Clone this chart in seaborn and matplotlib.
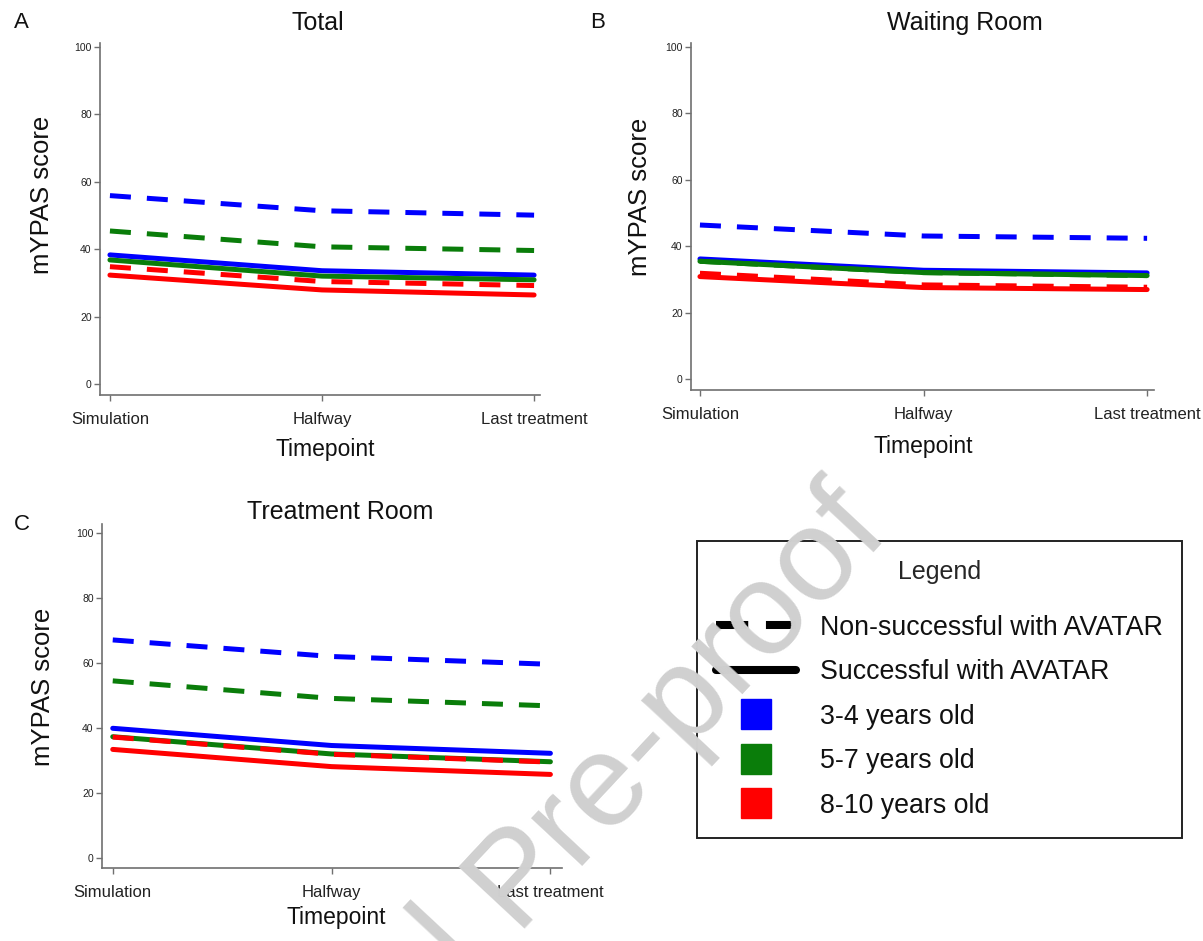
import matplotlib
matplotlib.use("Agg")
import matplotlib.pyplot as plt
from matplotlib.lines import Line2D
import numpy as np
import pandas as pd
import seaborn as sns

# timepoints and groups
timepoints = ["Simulation", "Halfway", "Last treatment"]
age_groups = ["3-4 years old", "5-7 years old", "8-10 years old"]
outcome_groups = ["Non-successful", "Successful"]
age_colors = ["#0000ff", "#0a7d0a", "#ff0000"]

# mYPAS scores, one row per age group
total_non = [[55.9, 51.4, 50.1], [45.4, 40.7, 39.6], [34.8, 30.4, 29.2]]
total_succ = [[38.3, 33.6, 32.3], [36.8, 32.0, 30.9], [32.3, 27.9, 26.4]]

waiting_non = [[46.4, 43.1, 42.4], [35.5, 32.1, 31.2], [31.9, 28.4, 27.7]]
waiting_succ = [[36.2, 32.8, 32.0], [35.5, 32.1, 31.2], [30.9, 27.6, 27.0]]

treatment_non = [[67.2, 62.1, 59.7], [54.6, 49.2, 46.9], [37.3, 32.0, 29.6]]
treatment_succ = [[40.0, 34.7, 32.3], [37.4, 32.1, 29.7], [33.5, 28.2, 25.8]]


def to_frame(non, succ):
    rows = []
    for outcome, block in zip(outcome_groups, [non, succ]):
        for age, vals in zip(age_groups, block):
            for i, v in enumerate(vals):
                rows.append({"tp": i, "score": v, "age": age, "group": outcome})
    return pd.DataFrame(rows)


sns.set_theme(style="white")
plt.rcParams["font.family"] = ["Liberation Sans", "DejaVu Sans"]

fig = plt.figure(figsize=(12.03, 9.41), dpi=100)

# (axes rect, xlim, ylim, title, title pos, xlabel pos, ylabel pos, letter pos)
panels = [
    ([0.0831, 0.5802, 0.3658, 0.3741], (-0.047, 2.028), (-3.3, 101.2), "Total",
     (0.495, 1.057), (0.511, -0.156), (-0.132, 0.568), (21, 23), total_non, total_succ),
    ([0.5744, 0.5855, 0.3849, 0.3688], (-0.04, 2.031), (-3.2, 101.1), "Waiting Room",
     (0.592, 1.058), (0.501, -0.164), (-0.110, 0.556), (598, 23), waiting_non, waiting_succ),
    ([0.0848, 0.0776, 0.3820, 0.3656], (-0.049, 2.051), (-3.0, 102.9), "Treatment Room",
     (0.518, 1.036), (0.509, -0.145), (-0.128, 0.527), (22, 525), treatment_non, treatment_succ),
]
letters = ["A", "B", "C"]

for (rect, xlim, ylim, title, tpos, xlpos, ylpos, lpos, non, succ), letter in zip(panels, letters):
    ax = fig.add_axes(rect)
    df = to_frame(non, succ)
    sns.lineplot(data=df, x="tp", y="score", hue="age", style="group",
                 hue_order=age_groups, style_order=outcome_groups,
                 palette=age_colors,
                 dashes={"Non-successful": (4.2, 3.2), "Successful": ""},
                 linewidth=3.6, legend=False, ax=ax)
    ax.set_xlim(*xlim)
    ax.set_ylim(*ylim)
    ax.set_xticks(range(3))
    ax.set_xticklabels(timepoints)
    ax.set_yticks(np.arange(0, 101, 20))
    sns.despine(ax=ax)
    for s in ["left", "bottom"]:
        ax.spines[s].set_color("#707070")
        ax.spines[s].set_linewidth(1.2)
    ax.tick_params(axis="x", bottom=True, length=4, width=1, color="#707070",
                   labelsize=12, pad=8, labelcolor="#222222")
    ax.tick_params(axis="y", left=True, length=4, width=1, color="#707070",
                   labelsize=7.5, pad=2, labelcolor="#222222")
    ax.set_xlabel("Timepoint", fontsize=16.5, color="#111111")
    ax.xaxis.label.set_va("center")
    ax.xaxis.set_label_coords(*xlpos)
    ax.set_ylabel("mYPAS score", fontsize=18.5, color="#111111")
    ax.yaxis.label.set_va("center")
    ax.yaxis.set_label_coords(*ylpos)
    ax.text(tpos[0], tpos[1], title, transform=ax.transAxes, ha="center", va="center",
            fontsize=18, color="#111111")
    fig.text(lpos[0] / 1203, 1 - lpos[1] / 941, letter, ha="center", va="center",
             fontsize=16, color="#111111")

# legend panel
handles = [
    Line2D([], [], color="black", linewidth=5.8, dashes=(4, 2.2)),
    Line2D([], [], color="black", linewidth=5.8),
] + [Line2D([], [], color=c, marker="s", markersize=22, linestyle="none") for c in age_colors]
labels = ["Non-successful with AVATAR", "Successful with AVATAR"] + age_groups

leg = fig.legend(handles, labels, loc="upper left",
                 bbox_to_anchor=(697 / 1203, 1 - 541 / 941), borderaxespad=0,
                 title="Legend", fontsize=19.3, title_fontsize=18,
                 handlelength=2.98, handletextpad=0.9, borderpad=0.72,
                 labelspacing=0.69, fancybox=False, framealpha=1)
leg.get_frame().set_edgecolor("#222222")
leg.get_frame().set_linewidth(1.4)
leg._legend_box.sep = 22
for t in leg.get_texts():
    t.set_color("#111111")

# watermark, drawn over everything
fig.text(513 / 1203, 1 - 929 / 941, "Pre-proof", rotation=47, rotation_mode="anchor",
         ha="left", va="baseline", fontsize=95, color="#d0d0d0", zorder=20)
fig.text(488 / 1203, 1 - 956 / 941, "Journal", rotation=47, rotation_mode="anchor",
         ha="right", va="baseline", fontsize=95, color="#d0d0d0", zorder=20)

fig.savefig("out.png", dpi=100)
